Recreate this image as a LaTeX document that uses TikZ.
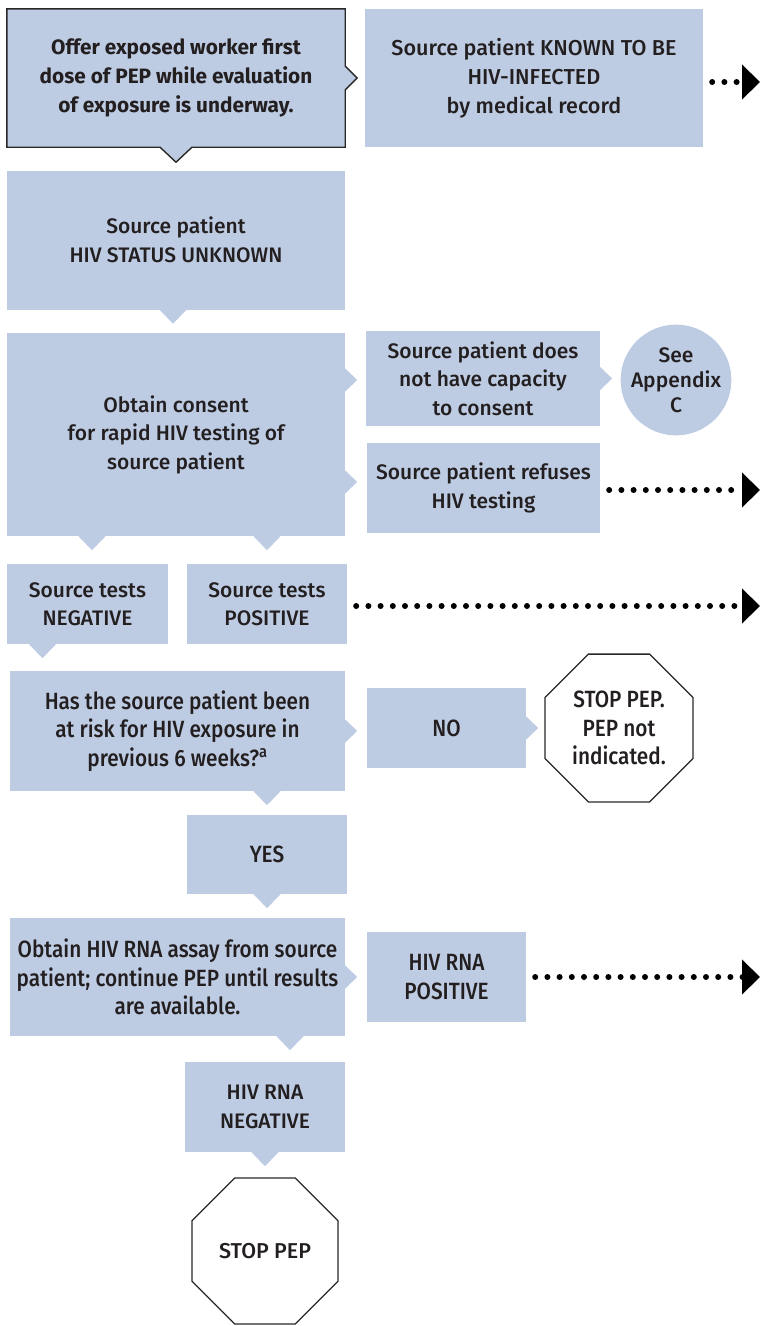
\documentclass[tikz,border=0pt]{standalone}
\usepackage{fontspec}
\setmainfont{Fira Sans}[UprightFont={* Medium}, BoldFont={* Bold}]
\newfontfamily\condfont{Fira Sans}[UprightFont={* Medium}, FakeStretch=0.885]
\usetikzlibrary{arrows.meta,shapes.geometric,calc}
\definecolor{boxblue}{RGB}{190,204,227}
\definecolor{txt}{RGB}{35,31,32}
\definecolor{edge}{RGB}{40,40,40}
\tikzset{
  box/.style={fill=boxblue, inner sep=0pt, align=center, text=txt,
    font=\fontsize{21}{28.5}\selectfont},
  cbox/.style={box, font=\condfont\fontsize{23.5}{28.5}\selectfont},
  stopsign/.style={regular polygon, regular polygon sides=8, fill=white, draw=edge,
    line width=1.3pt, inner sep=0pt, align=center, text=txt},
  dotarrow/.style={line width=6pt, line cap=round, dash pattern=on 0pt off 12.2pt,
    -{Triangle[length=18pt,width=34pt]}, draw=black}
}
\newcommand\ptrS[2]{\fill[boxblue] ([xshift=#2pt-14pt,yshift=0.5pt]#1.south) -- ([xshift=#2pt+14pt,yshift=0.5pt]#1.south) -- ([xshift=#2pt,yshift=-14pt]#1.south) -- cycle;}
\newcommand\ptrE[2]{\fill[boxblue] ([yshift=#2pt+12pt,xshift=-0.5pt]#1.east) -- ([yshift=#2pt-12pt,xshift=-0.5pt]#1.east) -- ([xshift=12pt,yshift=#2pt]#1.east) -- cycle;}
\begin{document}
\begin{tikzpicture}[x=1pt,y=-1pt]
\useasboundingbox (0,0) rectangle (760,1326);
% first box (outlined, with pointers)
\coordinate (b1c) at (176,78);
\path (b1c) node[minimum width=338pt, minimum height=138pt, inner sep=0pt] (b1) {};
\filldraw[fill=boxblue, draw=edge, line width=1.4pt, line join=miter]
  (b1.north west) -- (b1.north east) -- ([yshift=12pt]b1.east) -- ([xshift=12pt]b1.east)
  -- ([yshift=-12pt]b1.east) -- (b1.south east) -- ([xshift=16pt]b1.south)
  -- ([yshift=-15pt]b1.south) -- ([xshift=-16pt]b1.south) -- (b1.south west) -- cycle;
\node[box, fill=none, font=\bfseries\fontsize{20.8}{29}\selectfont] (b1t) at (b1c)
  {Offer exposed worker first\\dose of PEP while evaluation\\of exposure is underway.};

\node[box, minimum width=338pt, minimum height=138pt, font=\fontsize{21.6}{29}\selectfont] (b2) at (534,78)
  {Source patient KNOWN TO BE\\HIV-INFECTED\\by medical record};
\coordinate (e1) at (760,82);
\draw[dotarrow] ([xshift=9pt]b2.east |- e1) -- (e1);

\node[box, minimum width=338pt, minimum height=139pt] (b3) at (176,240)
  {Source patient\\HIV STATUS UNKNOWN};
\ptrS{b3}{-3}

\node[box, minimum width=338pt, minimum height=203pt] (b4) at (176,434.5)
  {Obtain consent\\for rapid HIV testing of\\source patient};
\ptrE{b4}{54.5}
\ptrE{b4}{-47.5}
\ptrS{b4}{-84}
\ptrS{b4}{91}

\node[box, minimum width=234pt, minimum height=95pt] (b5) at (483,378.5)
  {Source patient does\\not have capacity\\to consent};
\ptrE{b5}{0}
\node[circle, fill=boxblue, minimum size=105pt, inner sep=0pt, align=center, text=txt,
  font=\fontsize{21}{25}\selectfont] (app) at (676,380) {See\\Appendix\\C};

\node[box, minimum width=233pt, minimum height=90pt] (b6) at (483.5,488)
  {Source patient refuses\\HIV testing};
\coordinate (e2) at (760,490);
\draw[dotarrow] ([xshift=9pt]b6.east |- e2) -- (e2);

\node[box, minimum width=161pt, minimum height=80pt] (b7) at (87.5,604)
  {Source tests\\NEGATIVE};
\ptrS{b7}{-45}
\node[box, minimum width=160pt, minimum height=80pt] (b8) at (267,604)
  {Source tests\\POSITIVE};
\coordinate (e3) at (760,606);
\draw[dotarrow] ([xshift=9pt]b8.east |- e3) -- (e3);

\node[cbox, minimum width=335pt, minimum height=120pt] (b9) at (177.5,731)
  {Has the source patient been\\at risk for HIV exposure in\\previous 6 weeks?\textsuperscript{a}};
\ptrE{b9}{0}
\ptrS{b9}{89.5}
\node[cbox, minimum width=159pt, minimum height=80pt] (no) at (446.5,728) {NO};
\ptrE{no}{0}
\node[stopsign, minimum size=160pt, font=\condfont\fontsize{23.5}{28.5}\selectfont] (s1) at (619,728)
  {STOP PEP.\\PEP not\\indicated.};

\node[cbox, minimum width=160pt, minimum height=79pt] (yes) at (267,854.5) {YES};
\ptrS{yes}{0}

\node[cbox, minimum width=335pt, minimum height=118pt] (b10) at (177.5,977)
  {Obtain HIV RNA assay from source\\patient; continue PEP until results\\are available.};
\ptrE{b10}{0}
\ptrS{b10}{112.5}
\node[cbox, minimum width=159pt, minimum height=90pt] (pos) at (446.5,977)
  {HIV RNA\\POSITIVE};
\coordinate (e4) at (760,977);
\draw[dotarrow] ([xshift=9pt]pos.east |- e4) -- (e4);

\node[box, minimum width=160pt, minimum height=90pt] (neg) at (265,1107)
  {HIV RNA\\NEGATIVE};
\ptrS{neg}{0}
\node[stopsign, minimum size=158pt, font=\fontsize{21.5}{28.5}\selectfont] (s2) at (265,1251) {STOP PEP};
\end{tikzpicture}
\end{document}
